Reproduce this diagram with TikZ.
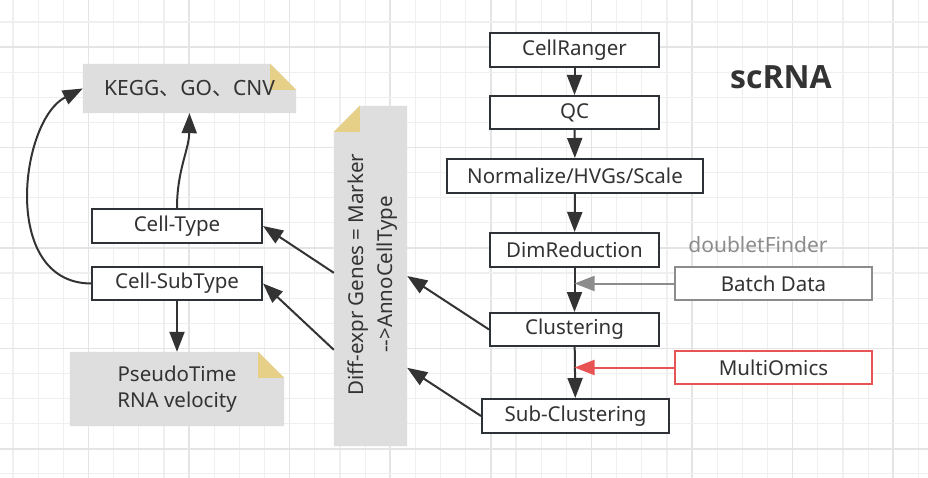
\documentclass[tikz,border=0pt]{standalone}
\usepackage{fontspec}
\setmainfont{Noto Sans}
\newfontfamily\cjk{Noto Sans CJK SC}
\newfontfamily\titlefont{Open Sans}
\usetikzlibrary{arrows.meta,calc,backgrounds}
\definecolor{ink}{HTML}{333333}
\definecolor{boxline}{HTML}{2E3236}
\definecolor{notegray}{HTML}{DEDEDE}
\definecolor{fold}{HTML}{E6CF86}
\definecolor{gridminor}{HTML}{EFEFEF}
\definecolor{gridmajor}{HTML}{E4E4E4}
\definecolor{batchgray}{HTML}{8C8C8C}
\definecolor{omicsred}{HTML}{E85454}
\begin{document}
\begin{tikzpicture}[x=1pt,y=-1pt,
  every node/.style={text=ink,font=\fontsize{20.5}{24}\selectfont},
  stepbox/.style={draw=boxline,line width=2pt,fill=white,rectangle,inner sep=0pt,minimum height=34pt},
  notebox/.style={rectangle,inner sep=0pt},
  conn/.style={draw=ink,line width=2pt,-{Triangle[length=20pt,width=15pt]}},
]
\useasboundingbox (0,0) rectangle (928,478);
% nodes
\node[stepbox,minimum width=169pt] (cr) at (574.5,50) {CellRanger};
\node[stepbox,minimum width=169pt,minimum height=33pt] (qc) at (574.5,112.5) {QC};
\node[stepbox,minimum width=256pt] (norm) at (575,176) {Normalize/HVGs/Scale};
\node[stepbox,minimum width=169pt] (dim) at (574.5,250) {DimReduction};
\node[stepbox,minimum width=169pt,minimum height=33pt] (clu) at (574.5,329.5) {Clustering};
\node[stepbox,minimum width=187pt] (sub) at (575.5,416) {Sub-Clustering};
\node[stepbox,draw=batchgray,minimum width=197pt,minimum height=33pt] (batch) at (773.5,283.5) {Batch Data};
\node[stepbox,draw=omicsred,minimum width=197pt,minimum height=33pt] (multi) at (773.5,367.5) {MultiOmics};
\node[stepbox,minimum width=170pt] (ct) at (177,226) {Cell-Type};
\node[stepbox,minimum width=170pt,minimum height=33pt] (cst) at (177,283.5) {Cell-SubType};
\node[notebox,minimum width=213pt,minimum height=49pt,font=\fontsize{21}{24}\selectfont] (kegg) at (189.5,88.5) {KEGG{\cjk 、}GO{\cjk 、}CNV};
\node[notebox,minimum width=214pt,minimum height=74pt,align=center,font=\fontsize{20.5}{26}\selectfont] (pseudo) at (177,389) {PseudoTime\\RNA velocity};
\node[notebox,minimum width=73pt,minimum height=340pt] (de) at (370.5,276) {};
\node[rotate=90,align=center,font=\fontsize{20.5}{29}\selectfont] (detext) at ($(de.center)+(2,-1.5)$) {Diff-expr Genes = Marker\hspace{25pt}\\{-}{-}>AnnoCellType};
\node[font=\titlefont\bfseries\fontsize{32}{36}\selectfont] (title) at (781,77) {scRNA};
\node[text=batchgray,font=\fontsize{21}{24}\selectfont] (dbl) at (758,245) {doubletFinder};
% background: grid and note shapes
\begin{scope}[on background layer]
  \fill[white] (0,0) rectangle (928,478);
  \foreach \i in {0,...,36}{
    \pgfmathsetmacro{\xx}{13+25.15*\i}
    \pgfmathtruncatemacro{\m}{mod(\i,4)}
    \ifnum\m=3
      \draw[gridmajor,line width=1.6pt] (\xx,0) -- (\xx,478);
    \else
      \draw[gridminor,line width=1.2pt] (\xx,0) -- (\xx,478);
    \fi
  }
  \foreach \i in {0,...,18}{
    \pgfmathsetmacro{\yy}{22+25.1*\i}
    \pgfmathtruncatemacro{\m}{mod(\i,4)}
    \ifnum\m=1
      \draw[gridmajor,line width=1.6pt] (0,\yy) -- (928,\yy);
    \else
      \draw[gridminor,line width=1.2pt] (0,\yy) -- (928,\yy);
    \fi
  }
  % KEGG note
  \fill[notegray] (kegg.north west) -- ($(kegg.north east)+(-26,0)$) -- ($(kegg.north east)+(0,26)$) -- (kegg.south east) -- (kegg.south west) -- cycle;
  \fill[fold] ($(kegg.north east)+(-26,0)$) -- ($(kegg.north east)+(-26,26)$) -- ($(kegg.north east)+(0,26)$) -- cycle;
  % Pseudo note
  \fill[notegray] (pseudo.north west) -- ($(pseudo.north east)+(-26,0)$) -- ($(pseudo.north east)+(0,26)$) -- (pseudo.south east) -- (pseudo.south west) -- cycle;
  \fill[fold] ($(pseudo.north east)+(-26,0)$) -- ($(pseudo.north east)+(-26,26)$) -- ($(pseudo.north east)+(0,26)$) -- cycle;
  % DE note
  \fill[notegray] ($(de.north west)+(0,26)$) -- ($(de.north west)+(26,0)$) -- (de.north east) -- (de.south east) -- (de.south west) -- cycle;
  \fill[fold] ($(de.north west)+(0,26)$) -- ($(de.north west)+(26,0)$) -- ($(de.north west)+(26,26)$) -- cycle;
\end{scope}
% main pipeline
\draw[conn] (cr) -- (qc);
\draw[conn] (qc) -- (norm);
\draw[conn] (norm) -- (dim);
\draw[conn] (dim) -- (clu);
\draw[conn] (clu) -- (sub);
% side inputs
\draw[conn,draw=batchgray,-{Triangle[length=20pt,width=15pt,fill=batchgray]}] (batch.west) -- (batch.west -| dim.south);
\draw[conn,draw=omicsred,-{Triangle[length=20pt,width=15pt,fill=omicsred]}] (multi.west) -- (multi.west -| clu.south);
% to diff-expr note
\draw[conn] (clu.west) -- (de.east);
\draw[conn] (sub.west) -- ($(de.north east)+(0,262)$);
\draw[conn] ($(de.north west)+(0,167)$) -- (ct.east);
\draw[conn] ($(de.north west)+(0,244)$) -- (cst.east);
% cell types
\draw[conn] (cst) -- (pseudo);
\draw[conn] (ct.north) .. controls (177,170) and (189,150) .. (kegg.south);
\draw[conn] (cst.west) .. controls (0,283) and (20,120) .. (kegg.west);
\end{tikzpicture}
\end{document}
